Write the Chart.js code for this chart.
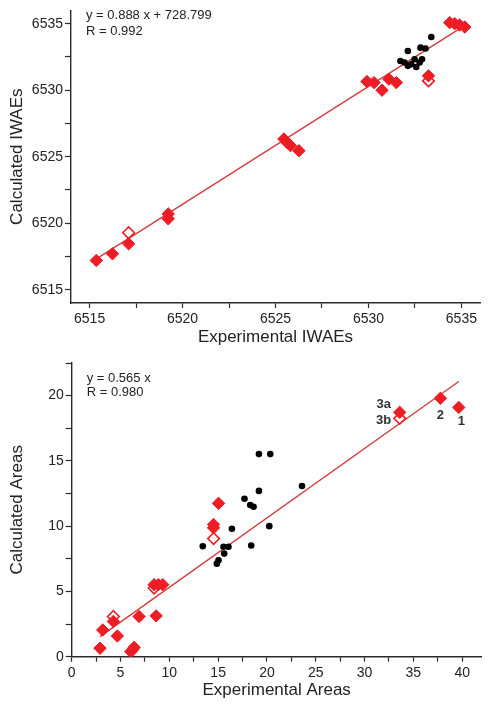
<!DOCTYPE html>
<html><head><meta charset="utf-8">
<script src="https://cdn.jsdelivr.net/npm/chart.js@4.4.1/dist/chart.umd.min.js"></script>
<style>
html,body{margin:0;padding:0;background:#fff;}
#wrap{position:relative;width:491px;height:709px;overflow:hidden;}
#c1{position:absolute;left:0;top:0;}
#c2{position:absolute;left:0;top:352px;}
</style></head><body>
<div id="wrap"><canvas id="c1" width="491" height="352"></canvas><canvas id="c2" width="491" height="357"></canvas></div>
<script>
// ---------- Top chart: IWAEs ----------
const iwaeRedX = [6515.36,6516.23,6517.10,6519.23,6519.23,6525.45,6525.63,6525.81,6526.26,6529.92,6530.30,6530.73,6531.10,6531.50,6533.23,6534.37,6534.64,6534.90,6535.18];
const iwaeRedY = [6517.20,6517.70,6518.45,6520.70,6520.33,6526.33,6526.07,6525.83,6525.45,6530.65,6530.57,6530.00,6530.83,6530.57,6531.08,6535.08,6535.00,6534.90,6534.75];
const iwaeOpenX = [6517.10,6533.23];
const iwaeOpenY = [6519.28,6530.70];
const iwaeBlackX = [6531.72,6531.94,6532.12,6532.12,6532.48,6532.57,6532.75,6532.88,6532.80,6533.07,6533.38,6532.30];
const iwaeBlackY = [6532.20,6532.08,6532.95,6531.83,6532.33,6531.75,6532.08,6532.33,6533.20,6533.13,6534.00,6531.95];
const iwaeFitX = [6515.09,6535.27];
const iwaeFitY = [6517.07,6534.95];
const iwaeMajorTicks = [6515,6520,6525,6530,6535];
const iwaeMinorTicks = [6517.5,6522.5,6527.5,6532.5];
const iwaeText = ['y = 0.888 x + 728.799','R = 0.992'];

// ---------- Bottom chart: Areas ----------
const areaRedX = [2.90,3.18,4.27,4.68,6.05,6.25,6.40,6.90,8.44,8.88,9.33,8.65,14.53,14.53,15.04,33.60,37.77,39.65];
const areaRedY = [0.65,2.05,2.70,1.59,0.38,0.55,0.72,3.08,5.52,5.52,5.52,3.13,10.13,9.87,11.75,18.72,19.80,19.10];
const areaOpenX = [4.27,8.44,14.53,33.60];
const areaOpenY = [3.08,5.26,9.05,18.26];
const areaBlackX = [13.43,14.87,15.04,15.62,15.55,16.06,16.41,17.70,18.29,18.63,18.39,19.18,20.34,19.18,20.24,23.59];
const areaBlackY = [8.46,7.13,7.38,7.90,8.42,8.42,9.80,12.10,11.62,11.49,8.52,15.52,15.52,12.70,10.00,13.08];
const areaFitX = [2.9,39.65];
const areaFitY = [1.54,21.08];
const areaXMajorTicks = [0,5,10,15,20,25,30,35,40];
const areaXMinorTicks = [2.5,7.5,12.5,17.5,22.5,27.5,32.5,37.5];
const areaYMajorTicks = [0,5,10,15,20];
const areaYMinorTicks = [2.5,7.5,12.5,17.5,22.5];
const areaText = ['y = 0.565 x','R = 0.980'];
const areaPointLabels = ['3a','3b','2','1'];

// ---------- styling ----------
const RED = '#ee1c24';
const FIT = '#d43d3d';
const AX = '#2a2a2a';
const FONT = "'Liberation Sans', Arial, Helvetica, sans-serif";
Chart.defaults.font.family = FONT;
Chart.defaults.color = '#222';

function pts(xs, ys){ return xs.map((x,i)=>({x:x, y:ys[i]})); }

function scaleOpts(min, max, majors, minors, isX, title, tpad){
  return {
    type:'linear', min:min, max:max,
    afterBuildTicks: s => { s.ticks = majors.concat(minors).sort((a,b)=>a-b).map(v=>({value:v})); },
    ticks:{ autoSkip:false, maxRotation:0, padding: isX ? 3 : 2,
      font:{size:14}, color:'#222',
      callback: v => majors.includes(v) ? String(v) : '' },
    grid:{ drawOnChartArea:false, drawTicks:true, tickLength: isX ? 5 : 6, tickColor:AX, tickWidth:1.2 },
    border:{ display:true, color:AX, width:1.4 },
    title:{ display:true, text:title, font:{size:17}, color:'#222', padding: tpad }
  };
}

const textPlugin = {
  id:'textPlugin',
  afterDraw(chart){
    const o = chart.options.plugins.textPlugin || {};
    const ctx = chart.ctx; const ca = chart.chartArea;
    ctx.save();
    if (o.lines){
      ctx.font = '13px ' + FONT; ctx.fillStyle = '#222';
      ctx.textAlign = 'left'; ctx.textBaseline = 'middle';
      o.lines.forEach((t,i)=>{ ctx.fillText(t, ca.left + 15, ca.top + o.y0 + i*o.dy); });
    }
    if (o.pointLabels){
      ctx.font = 'bold 13px ' + FONT; ctx.fillStyle = '#333';
      ctx.textAlign = 'center'; ctx.textBaseline = 'middle';
      o.pointLabels.forEach(pl=>{
        const meta = chart.getDatasetMeta(pl.ds);
        const el = meta.data[pl.idx];
        ctx.fillText(pl.text, el.x + pl.dx, el.y + pl.dy);
      });
    }
    ctx.restore();
  }
};

function makeChart(id, red, open, black, fit, xs, ys, pad, textOpts){
  return new Chart(document.getElementById(id), {
    type:'scatter',
    data:{ datasets:[
      { data: red, pointStyle:'rectRot', pointRadius:6.2, backgroundColor:RED, borderColor:RED, borderWidth:1, order:1 },
      { data: open, pointStyle:'rectRot', pointRadius:5.8, backgroundColor:'#fff', borderColor:RED, borderWidth:1.6, order:2 },
      { data: black, pointStyle:'circle', pointRadius:3.3, backgroundColor:'#000', borderColor:'#000', borderWidth:0, order:3 },
      { data: fit, showLine:true, pointRadius:0, borderColor:FIT, borderWidth:1.4, fill:false, order:10 }
    ]},
    options:{
      responsive:false, animation:false,
      layout:{ padding: pad },
      plugins:{ legend:{display:false}, tooltip:{enabled:false}, textPlugin: textOpts },
      scales:{ x: xs, y: ys }
    },
    plugins:[textPlugin]
  });
}

// top chart
const topX = scaleOpts(6514, 6536, iwaeMajorTicks, iwaeMinorTicks, true, 'Experimental IWAEs', {top:0,bottom:4});
topX.afterFit = s => { s.height = 49; };
const topY = scaleOpts(6514, 6536, iwaeMajorTicks, iwaeMinorTicks, false, 'Calculated IWAEs', {top:7,bottom:0});
topY.afterFit = s => { s.width = 71; };
makeChart('c1', pts(iwaeRedX,iwaeRedY), pts(iwaeOpenX,iwaeOpenY), pts(iwaeBlackX,iwaeBlackY), pts(iwaeFitX,iwaeFitY),
  topX, topY, {top:10,right:11,left:0,bottom:0}, {lines:iwaeText, y0:5, dy:16});

// bottom chart
const botX = scaleOpts(0, 42, areaXMajorTicks, areaXMinorTicks, true, 'Experimental Areas', {top:0,bottom:8});
botX.afterFit = s => { s.height = 52.3; };
const botY = scaleOpts(0, 22.5, areaYMajorTicks, areaYMinorTicks, false, 'Calculated Areas', {top:7,bottom:0});
botY.afterFit = s => { s.width = 71.7; };
makeChart('c2', pts(areaRedX,areaRedY), pts(areaOpenX,areaOpenY), pts(areaBlackX,areaBlackY), pts(areaFitX,areaFitY),
  botX, botY, {top:11,right:9.3,left:0,bottom:0},
  {lines:areaText, y0:15.3, dy:14.5,
   pointLabels:[
     {text:areaPointLabels[0], ds:0, idx:15, dx:-16, dy:-7.6},
     {text:areaPointLabels[1], ds:1, idx:3, dx:-16, dy:2.4},
     {text:areaPointLabels[2], ds:0, idx:16, dx:0, dy:17.4},
     {text:areaPointLabels[3], ds:0, idx:17, dx:2.7, dy:14}
   ]});
</script>
</body></html>
